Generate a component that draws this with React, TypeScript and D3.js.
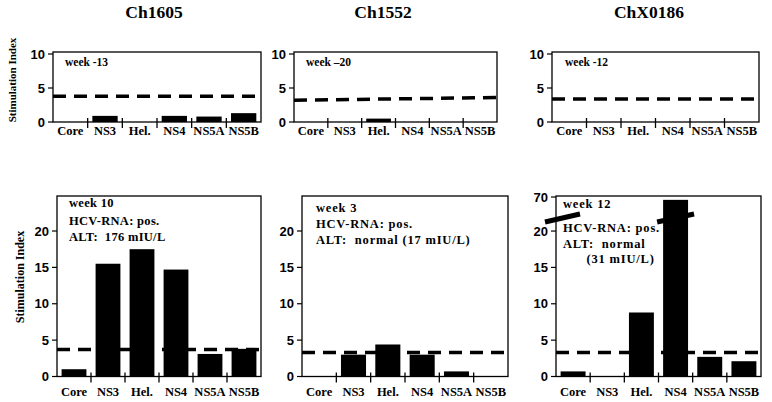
import React from "react";
import * as d3 from "d3";

// Proliferation responses to HCV antigens, before and after challenge
const animals = ["Ch1605", "Ch1552", "ChX0186"];
const categories = ["Core", "NS3", "Hel.", "NS4", "NS5A", "NS5B"];

const preValues = [
  [0, 0.9, 0, 0.9, 0.8, 1.3],
  [0, 0, 0.5, 0, 0, 0],
  [0, 0, 0, 0, 0, 0],
];
const postValues = [
  [1.0, 15.5, 17.5, 14.7, 3.1, 3.8],
  [0, 3.0, 4.4, 3.0, 0.7, 0],
  [0.7, 0, 8.8, 63, 2.7, 2.1],
];

// cut-off (start, end) of the dashed positivity line
const preCutoff = [
  [3.8, 3.8],
  [3.2, 3.6],
  [3.4, 3.4],
];
const postCutoff = [
  [3.7, 3.7],
  [3.3, 3.3],
  [3.3, 3.3],
];

const preNotes = [["week -13"], ["week \u201320"], ["week -12"]];
const postNotes = [
  ["week 10", "HCV-RNA: pos.", "ALT:  176 mIU/L"],
  ["week 3", "HCV-RNA: pos.", "ALT:  normal (17 mIU/L)"],
  ["week 12", "HCV-RNA: pos.", "ALT:  normal", "      (31 mIU/L)"],
];

const preTicks = [0, 5, 10];
const postTicks = [0, 5, 10, 15, 20];
const brokenTicks = [0, 5, 10, 15, 20, 70];

const SANS = "'Liberation Sans', Arial, sans-serif";
const SERIF = "'Liberation Serif', 'Times New Roman', serif";

type PanelProps = {
  x0: number;
  x1: number;
  top: number;
  base: number;
  y: (v: number) => number;
  ticks: number[];
  values: number[];
  cutoff: number[];
  notes: string[];
  noteX: number;
  noteY: number[];
  noteSize: number;
  noteSpacing: number;
  labelY: number;
  breakY?: number;
};

function Panel(p: PanelProps) {
  const x = d3.scaleBand<string>().domain(categories).range([p.x0, p.x1]).paddingInner(0.27).paddingOuter(0.135);
  const edges = d3.scaleBand<string>().domain(categories).range([p.x0, p.x1]);
  const line = d3
    .line<number[]>()
    .x((d) => d[0])
    .y((d) => d[1]);
  const dash = line([
    [p.x0, p.y(p.cutoff[0])],
    [p.x1, p.y(p.cutoff[1])],
  ]) as string;
  return (
    <g>
      <path d={dash} stroke="#000" strokeWidth={3.5} strokeDasharray="13 8" fill="none" />
      {p.values.map((v, i) =>
        v > 0 ? (
          <rect
            key={i}
            x={x(categories[i])}
            width={x.bandwidth()}
            y={p.y(v)}
            height={p.base - p.y(v)}
            fill="#000"
          />
        ) : null
      )}
      <rect x={p.x0} y={p.top} width={p.x1 - p.x0} height={p.base - p.top} fill="none" stroke="#000" strokeWidth={1.3} />
      {categories.slice(1).map((c) => (
        <line key={c} x1={edges(c)} x2={edges(c)} y1={p.base - 4} y2={p.base + 6} stroke="#000" strokeWidth={1.3} />
      ))}
      {p.ticks.map((t) => (
        <g key={t}>
          <line x1={p.x0 - 5} x2={p.x0} y1={p.y(t)} y2={p.y(t)} stroke="#000" strokeWidth={1.2} />
          <text
            x={p.x0 - 8}
            y={p.y(t)}
            dy="0.36em"
            textAnchor="end"
            fontFamily={SANS}
            fontWeight="bold"
            fontSize={13}
          >
            {t}
          </text>
        </g>
      ))}
      {categories.map((c) => (
        <text
          key={c}
          x={(edges(c) as number) + edges.bandwidth() / 2}
          y={p.labelY}
          textAnchor="middle"
          fontFamily={SERIF}
          fontWeight="bold"
          fontSize={12.5}
        >
          {c}
        </text>
      ))}
      {p.notes.map((n, i) => (
        <text
          key={i}
          x={p.noteX}
          y={p.noteY[i]}
          fontFamily={SERIF}
          fontWeight="bold"
          fontSize={p.noteSize}
          letterSpacing={p.noteSpacing}
          style={{ whiteSpace: "pre" }}
        >
          {n}
        </text>
      ))}
      {p.breakY !== undefined ? (
        <g stroke="#000" strokeWidth={5} strokeLinecap="butt">
          <line x1={p.x0 - 11} y1={p.breakY + 4} x2={p.x0 + 24} y2={p.breakY - 4} />
          <line x1={x("NS4")! - 6} y1={p.breakY + 4} x2={x("NS4")! + x.bandwidth() + 6} y2={p.breakY - 4} />
        </g>
      ) : null}
    </g>
  );
}

export default function App() {
  const W = 772;
  const H = 402;

  const topCols = [
    { x0: 53, x1: 261 },
    { x0: 294, x1: 497 },
    { x0: 552, x1: 759 },
  ];
  const botCols = [
    { x0: 57, x1: 261 },
    { x0: 302, x1: 508 },
    { x0: 556, x1: 761 },
  ];
  const titleX = [154, 383, 649];

  const yPre = d3.scaleLinear().domain([0, 10]).range([122, 54]);
  const yPost = d3.scaleLinear().domain([0, 20]).range([376.5, 231]);
  const yBroken = d3.scaleLinear().domain([0, 22, 70]).range([376.5, 216.5, 197]);

  const preNoteX = [65, 306, 565];
  const postNoteX = [69, 316, 563];
  const postNoteY = [
    [207, 225, 241],
    [212, 228, 244],
    [208, 232, 248, 263],
  ];

  return (
    <div style={{ position: "absolute", left: 0, top: 0 }}>
      <svg width={W} height={H} viewBox={`0 0 ${W} ${H}`} style={{ display: "block", background: "#fff" }}>
        <rect width={W} height={H} fill="#fff" />
        {animals.map((a, i) => (
          <text key={a} x={titleX[i]} y={18} textAnchor="middle" fontFamily={SERIF} fontWeight="bold" fontSize={17.5}>
            {a}
          </text>
        ))}
        <text
          transform="translate(16,80) rotate(-90)"
          textAnchor="middle"
          fontFamily={SERIF}
          fontWeight="bold"
          fontSize={11}
        >
          Stimulation Index
        </text>
        <text
          transform="translate(24,277) rotate(-90)"
          textAnchor="middle"
          fontFamily={SERIF}
          fontWeight="bold"
          fontSize={12}
        >
          Stimulation Index
        </text>
        {animals.map((a, i) => (
          <Panel
            key={"pre" + a}
            x0={topCols[i].x0}
            x1={topCols[i].x1}
            top={52}
            base={122}
            y={yPre}
            ticks={preTicks}
            values={preValues[i]}
            cutoff={preCutoff[i]}
            notes={preNotes[i]}
            noteX={preNoteX[i]}
            noteY={[66]}
            noteSize={11.5}
            noteSpacing={0}
            labelY={135}
          />
        ))}
        {animals.map((a, i) => (
          <Panel
            key={"post" + a}
            x0={botCols[i].x0}
            x1={botCols[i].x1}
            top={196}
            base={376.5}
            y={i === 2 ? yBroken : yPost}
            ticks={i === 2 ? brokenTicks : postTicks}
            values={postValues[i]}
            cutoff={postCutoff[i]}
            notes={postNotes[i]}
            noteX={postNoteX[i]}
            noteY={postNoteY[i]}
            noteSize={i === 0 ? 12.5 : 12.5}
            noteSpacing={i === 0 ? 0.3 : 0.8}
            labelY={396}
            breakY={i === 2 ? yBroken(21.8) : undefined}
          />
        ))}
      </svg>
    </div>
  );
}
